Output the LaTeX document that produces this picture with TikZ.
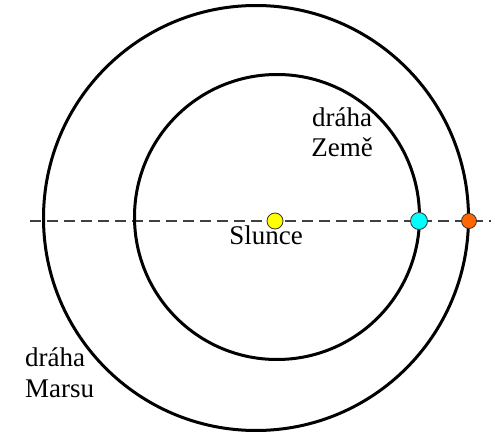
\documentclass[tikz,border=0pt]{standalone}
\usepackage{fontspec}
\setmainfont{Liberation Serif}
\definecolor{sunY}{RGB}{255,255,0}
\definecolor{earthC}{RGB}{0,255,255}
\definecolor{marsO}{RGB}{255,102,0}
\begin{document}
\begin{tikzpicture}[x=1pt,y=-1pt,
  orbit/.style={line width=3pt,black},
  axis/.style={line width=1.5pt,black!75,dash pattern=on 11pt off 6pt},
  planet/.style={circle,draw=black!80,line width=0.8pt,inner sep=0pt},
  lbl/.style={font=\fontsize{27}{30}\selectfont,inner sep=0pt}]
\useasboundingbox (0,0) rectangle (491,433);
\coordinate (sun) at (275,221);
\coordinate (axL) at (30,221);
\coordinate (axR) at (491,221);
\draw[axis] (axL) -- (axR);
\draw[orbit] (277,217) circle (142.5);
\draw[orbit] (256,218) circle (212.5);
\node[planet,fill=sunY,minimum size=16pt] (slunce) at (sun) {};
\node[planet,fill=earthC,minimum size=17pt] (zeme) at (419,221) {};
\node[planet,fill=marsO,minimum size=15pt] (mars) at (469,221) {};
\node[lbl,anchor=base] (tS) at (266,245) {Slunce};
\node[lbl,anchor=base] (tZ1) at (342,127) {dráha};
\node[lbl,anchor=base] (tZ2) at (342,157) {Země};
\node[lbl,anchor=base west] (tM1) at (25,367) {dráha};
\node[lbl,anchor=base west] (tM2) at (25,398) {Marsu};
\end{tikzpicture}
\end{document}
